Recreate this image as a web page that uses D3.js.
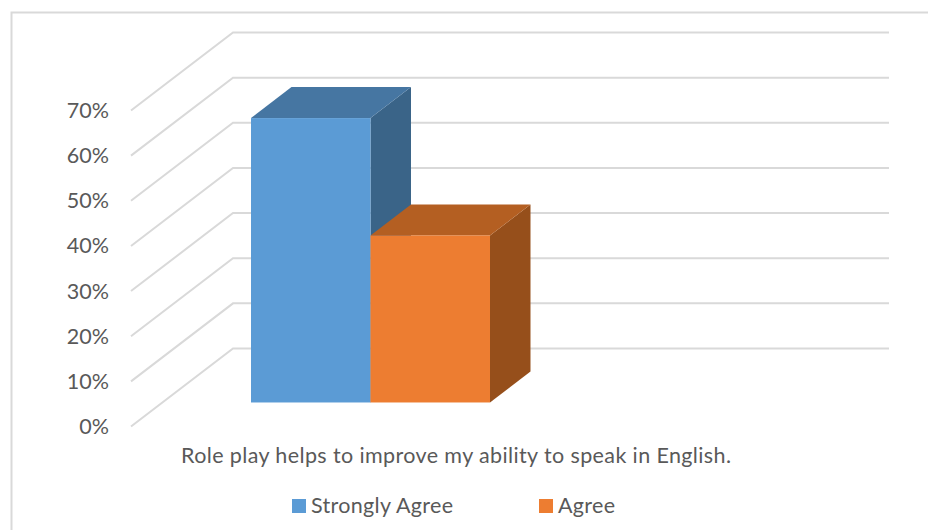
<!DOCTYPE html>
<html>
<head>
<meta charset="utf-8">
<script src="https://cdn.jsdelivr.net/npm/d3@7"></script>
<style>
  html, body { margin: 0; padding: 0; background: #fff; }
  svg { display: block; }
  text { font-family: Lato, "Open Sans", sans-serif; fill: #595959; }
</style>
</head>
<body>
<svg id="chart" width="928" height="530"></svg>
<script>
const categoryLabel = "Role play helps to improve my ability to speak in English.";
const seriesNames = ["Strongly Agree", "Agree"];
const seriesValues = [0.63, 0.37];
const tickValues = [0, 0.1, 0.2, 0.3, 0.4, 0.5, 0.6, 0.7];
const frontColors = ["#5b9bd5", "#ed7d31"];
const topColors = ["#4676a2", "#b45f22"];
const sideColors = ["#3a6488", "#964f1b"];

const svg = d3.select("#chart");

// Oblique projection of the 3D box: the wall sits a full depth behind the axis.
const wallDx = 102, wallDy = -78;
const y = d3.scaleLinear().domain([0, 0.7]).range([426.5, 110.5]);
const tickFormat = d3.format(".0%");

// Bars stand inside the floor, between these fractions of its depth.
const barFront = 0.308, barBack = 0.705;
const axisX = 131, wallRight = 889;
const x = d3.scaleBand().domain(seriesNames).range([251, 490]);

// Chart frame, running off the right and bottom of the page.
svg.append("path")
  .attr("d", "M11.5,531V12.5H929")
  .attr("fill", "none").attr("stroke", "#d9d9d9").attr("stroke-width", 2);

// Gridlines: a diagonal along the side wall, then a run across the back wall.
svg.append("g").selectAll("path").data(tickValues).join("path")
  .attr("d", d => {
    const p = d3.path();
    p.moveTo(axisX, y(d));
    p.lineTo(axisX + wallDx, y(d) + wallDy);
    p.lineTo(wallRight, y(d) + wallDy);
    return p.toString();
  })
  .attr("fill", "none").attr("stroke", "#d9d9d9").attr("stroke-width", 2);

// Value axis labels.
svg.append("g").selectAll("text").data(tickValues).join("text")
  .attr("x", 109).attr("y", d => y(d) + 7.5)
  .attr("text-anchor", "end").attr("font-size", 21.5)
  .text(tickFormat);

// Each bar is a front face, a top face and a right face.
const base = y(0) + barFront * wallDy;
const depthDx = (barBack - barFront) * wallDx;
const depthDy = (barBack - barFront) * wallDy;
const barData = seriesNames.map((name, i) => ({ name, i, value: seriesValues[i] }));
const bars = svg.append("g").selectAll("g").data(barData).join("g");

const polygon = pts => pts.map(p => p.join(",")).join(" ");

bars.append("polygon")
  .attr("fill", d => sideColors[d.i])
  .attr("points", d => {
    const r = x(d.name) + x.bandwidth();
    const t = base - (y(0) - y(d.value));
    return polygon([[r, t], [r + depthDx, t + depthDy], [r + depthDx, base + depthDy], [r, base]]);
  });
bars.append("polygon")
  .attr("fill", d => topColors[d.i])
  .attr("points", d => {
    const l = x(d.name), r = l + x.bandwidth();
    const t = base - (y(0) - y(d.value));
    return polygon([[l, t], [r, t], [r + depthDx, t + depthDy], [l + depthDx, t + depthDy]]);
  });
bars.append("rect")
  .attr("fill", d => frontColors[d.i])
  .attr("x", d => x(d.name))
  .attr("width", x.bandwidth())
  .attr("y", d => base - (y(0) - y(d.value)))
  .attr("height", d => y(0) - y(d.value));

// Category label.
svg.append("text")
  .attr("x", 181).attr("y", 463)
  .attr("font-size", 21.5).attr("textLength", 550).attr("lengthAdjust", "spacing")
  .text(categoryLabel);

// Legend.
const legendX = [292, 539];
const legendTextWidth = [142, 57];
const legend = svg.append("g").selectAll("g").data(barData).join("g");
legend.append("rect")
  .attr("x", d => legendX[d.i]).attr("y", 499)
  .attr("width", 14).attr("height", 14)
  .attr("fill", d => frontColors[d.i]);
legend.append("text")
  .attr("x", d => legendX[d.i] + 19).attr("y", 513)
  .attr("font-size", 21.5)
  .attr("textLength", d => legendTextWidth[d.i]).attr("lengthAdjust", "spacing")
  .text(d => d.name);
</script>
</body>
</html>
